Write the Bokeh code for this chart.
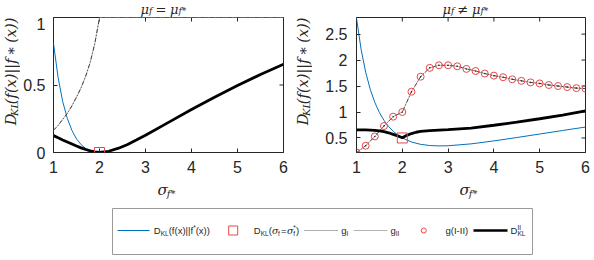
import math
from bokeh.plotting import figure
from bokeh.layouts import column, row
from bokeh.models import Range1d, Label, FixedTicker
from bokeh.embed import file_html
from bokeh.resources import INLINE

# ---- data -------------------------------------------------------------
# sigma_{f*} sample points for the smooth curves
sig_a = [1.0, 1.1, 1.2, 1.3, 1.4, 1.5, 1.6, 1.7, 1.8, 1.9, 2.0,
         2.2, 2.4, 2.6, 2.8, 3.0, 3.5, 4.0, 4.5, 5.0, 5.5, 6.0]

# equal means: D_KL(f(x)||f*(x)) and D_KL^II
kl_equal = [0.807, 0.555, 0.378, 0.253, 0.164, 0.101, 0.058, 0.030, 0.012, 0.003, 0.0,
            0.009, 0.030, 0.058, 0.092, 0.128, 0.223, 0.318, 0.410, 0.496, 0.578, 0.654]
dkl2_equal = [0.125, 0.109, 0.093, 0.078, 0.063, 0.048, 0.034, 0.022, 0.012, 0.005, 0.0,
              0.009, 0.030, 0.058, 0.092, 0.128, 0.223, 0.318, 0.410, 0.496, 0.578, 0.654]

# equal means: g_I / g_II
sig_g = [1.0, 1.1, 1.2, 1.3, 1.4, 1.5, 1.6, 1.7, 1.8, 1.9, 2.0, 3.0, 4.0, 5.0, 6.0]
g_equal = [0.165, 0.20, 0.245, 0.29, 0.345, 0.41, 0.48, 0.565, 0.67, 0.81, 1.0, 1.0, 1.0, 1.0, 1.0]

# shifted means: D_KL(f(x)||f*(x))
kl_shift = [2.807, 2.208, 1.767, 1.436, 1.184, 0.990, 0.839, 0.722, 0.629, 0.557, 0.500,
            0.422, 0.377, 0.354, 0.347, 0.350, 0.386, 0.443, 0.508, 0.576, 0.644, 0.710]

# shifted means: D_KL^II
sig_b = [1.0, 1.2, 1.4, 1.5, 1.6, 1.7, 1.8, 1.9, 2.0, 2.1, 2.2,
         2.3, 2.4, 2.6, 2.8, 3.0, 3.5, 4.0, 4.5, 5.0, 5.5, 6.0]
dkl2_shift = [0.655, 0.655, 0.645, 0.635, 0.62, 0.60, 0.57, 0.54, 0.505, 0.55, 0.585,
              0.61, 0.625, 0.64, 0.65, 0.66, 0.69, 0.745, 0.805, 0.87, 0.94, 1.02]

# shifted means: g(I-II) sampled every 0.2
sig_c = [1.0, 1.2, 1.4, 1.6, 1.8, 2.0, 2.2, 2.4, 2.6, 2.8, 3.0, 3.2, 3.4,
         3.6, 3.8, 4.0, 4.2, 4.4, 4.6, 4.8, 5.0, 5.2, 5.4, 5.6, 5.8, 6.0]
g_shift = [0.22, 0.35, 0.53, 0.73, 0.91, 1.00, 1.39, 1.68, 1.85, 1.90, 1.90, 1.88, 1.83,
           1.79, 1.74, 1.70, 1.67, 1.63, 1.60, 1.57, 1.55, 1.52, 1.50, 1.48, 1.46, 1.45]

# D_KL at sigma_f = sigma_f*
opt_sigma = [2.0]
opt_kl_equal = [0.0]
opt_kl_shift = [0.5]

x_ticks = [1, 2, 3, 4, 5, 6]
y_ticks_left = [0, 0.5, 1]
y_labels_left = ["0", "0.5", "1"]
y_ticks_right = [0.5, 1, 1.5, 2, 2.5]
y_labels_right = ["0.5", "1", "1.5", "2", "2.5"]

# ---- styling ----------------------------------------------------------
INK = "#262626"
BLUE = "#0072BD"
RED = "#e8474b"
MATH = "DejaVu Serif"
SANS = "Liberation Sans"
CORE_H = 163   # frame (135) + room for the tick labels


def blank(width, height):
    """A plain pixel-space strip used to hold math-style text."""
    s = figure(width=width, height=height, x_range=Range1d(0, width),
               y_range=Range1d(height, 0), output_backend="svg",
               toolbar_location=None, min_border=0, title=None,
               x_axis_location=None, y_axis_location=None)
    s.xgrid.visible = False
    s.ygrid.visible = False
    s.outline_line_color = None
    return s


def label(fig, x, y, text, size, style="italic", font=MATH, align="left",
          baseline="middle", angle=0.0):
    fig.add_layout(Label(x=x, y=y, text=text, text_font=font,
                         text_font_size=f"{size}px", text_font_style=style,
                         text_color=INK, text_align=align,
                         text_baseline=baseline, angle=angle))


def make_axes(width, left, right, y0, y1, yticks, ylabels, ystandoff):
    p = figure(width=width, height=CORE_H, x_range=Range1d(1, 6), y_range=Range1d(y0, y1),
               output_backend="svg", toolbar_location=None,
               min_border_left=left, min_border_right=right,
               min_border_top=0, min_border_bottom=CORE_H - 135)
    p.xgrid.visible = False
    p.ygrid.visible = False
    p.outline_line_color = INK
    p.outline_line_width = 1
    p.xaxis.ticker = FixedTicker(ticks=x_ticks)
    p.yaxis.ticker = FixedTicker(ticks=yticks)
    p.yaxis.major_label_overrides = {t: s for t, s in zip(yticks, ylabels)}
    for ax in p.axis:
        ax.axis_line_color = None
        ax.major_tick_in = 4
        ax.major_tick_out = 0
        ax.minor_tick_in = 0
        ax.minor_tick_out = 0
        ax.major_tick_line_color = INK
        ax.major_label_text_font = SANS
        ax.major_label_text_font_size = "16px"
        ax.major_label_text_color = INK
    p.xaxis.major_label_standoff = 8
    p.yaxis.major_label_standoff = ystandoff
    # mirrored tick marks along the top and right edges of the box
    # (centred on the edge, so only the inner half shows)
    p.scatter(x_ticks, [y1] * len(x_ticks), marker="dash", angle=math.pi / 2,
              size=8, line_color=INK, line_width=1)
    p.scatter([6] * len(yticks), yticks, marker="dash", size=8,
              line_color=INK, line_width=1)
    return p


def panel(core, width, relation, tx, sx):
    """Wrap an axes figure with its title, y label and x label strips."""
    # title: mu_f = mu_f*  (or the not-equal form)
    title = blank(width, 17)
    label(title, tx, 8.5, "μ", 13)
    label(title, tx + 8.5, 10.3, "f", 9)
    label(title, tx + 15, 8.5, relation, 13, style="normal")
    label(title, tx + 29.5, 8.5, "μ", 13)
    label(title, tx + 38, 10.3, "f*", 9)

    # y label: D_KL(f(x)||f*(x)), reading bottom to top
    ylab = blank(20, CORE_H)
    rot = math.pi / 2
    label(ylab, 10, 130, "D", 14.5, angle=rot)
    label(ylab, 13.5, 118.8, "KL", 10, angle=rot)
    label(ylab, 10, 104.6, "(f(x)||f\u2009∗\u2009(x))", 14.5, angle=rot)

    # x label: sigma_f*
    xlab = blank(width, 200 - 17 - CORE_H)
    label(xlab, sx, 9.2, "σ", 15)
    label(xlab, sx + 9.3, 13.3, "f*", 10)
    return column(title, row(ylab, core), xlab)


# ---- equal means ------------------------------------------------------
p1 = make_axes(272, 33, 9, 0, 1, y_ticks_left, y_labels_left, 8)
p1.line(sig_a, kl_equal, color=BLUE, line_width=1)
p1.line(sig_g, g_equal, color="#b5b5b5", line_width=1)
p1.line(sig_g, g_equal, color="#333333", line_width=0.9, line_dash="4 2 1 2")
p1.line(sig_a, dkl2_equal, color="black", line_width=2.8)
p1.scatter(opt_sigma, opt_kl_equal, marker="square", size=10, fill_color=None,
           line_color=RED, line_width=1)

# ---- shifted means ----------------------------------------------------
p2 = make_axes(282, 44, 9, 0.22, 2.82, y_ticks_right, y_labels_right, 9)
p2.line(sig_a, kl_shift, color=BLUE, line_width=1)
p2.line(sig_c, g_shift, color="#b5b5b5", line_width=1)
p2.line(sig_c, g_shift, color="#333333", line_width=0.8, line_dash="4 2 1 2")
p2.scatter(sig_c, g_shift, marker="circle", size=7, fill_color=None,
           line_color=RED, line_width=1)
p2.scatter(sig_c, g_shift, marker="circle", size=1.5, fill_color="#222222",
           line_color=None)
p2.line(sig_b, dkl2_shift, color="black", line_width=2.8)
p2.scatter(opt_sigma, opt_kl_shift, marker="square", size=10, fill_color=None,
           line_color=RED, line_width=1)

left = panel(p1, 292, "=", 140, 157)
right = panel(p2, 302, "≠", 150, 167)

# ---- legend strip -----------------------------------------------------
pl = figure(width=594, height=60, x_range=Range1d(0, 594), y_range=Range1d(260, 200),
            output_backend="svg", toolbar_location=None, min_border=0, title=None,
            x_axis_location=None, y_axis_location=None)
pl.xgrid.visible = False
pl.ygrid.visible = False
pl.outline_line_color = None
pl.quad(left=112, right=532, top=208, bottom=254, fill_color="white",
        line_color="#9a9a9a", line_width=1)
ym = 230
pl.line([117, 149], [ym, ym], color=BLUE, line_width=1)
pl.scatter([232.7], [ym], marker="square", size=9, fill_color=None, line_color=RED)
pl.line([304, 337], [ym, ym], color="#333333", line_width=0.8, line_dash="1 1")
pl.line([353, 387], [ym, ym], color="#b5b5b5", line_width=1)
pl.scatter([423.3], [ym], marker="circle", size=5, fill_color=None, line_color=RED)
pl.line([473, 507], [ym, ym], color="black", line_width=2.5)


def leg(x, y, text, size=9.5, style="normal", font=SANS):
    label(pl, x, y, text, size, style=style, font=font)


leg(153.3, ym, "D")
leg(160.2, ym + 2.5, "KL", 6.5)
leg(168.2, ym, "(f(x)||f")
leg(192.7, ym - 3, "*", 6.5)
leg(195.2, ym, "(x))")

leg(253.3, ym, "D")
leg(260.2, ym + 2.5, "KL", 6.5)
leg(268.2, ym, "(")
leg(271.4, ym, "σ", style="italic", font=MATH)
leg(277.6, ym + 2.5, "f", 6.5)
leg(280.6, ym, "=")
leg(286.6, ym, "σ", style="italic", font=MATH)
leg(292.8, ym - 3, "*", 6.5)
leg(292.8, ym + 2.5, "f", 6.5)
leg(295.6, ym, ")")

leg(340.7, ym, "g")
leg(346.0, ym + 2.5, "I", 6.5)
leg(390.0, ym, "g")
leg(395.3, ym + 2.5, "II", 6.5)
leg(445.0, ym, "g(I-II)")
leg(510.0, ym, "D")
leg(517.0, ym - 3.5, "II", 6.5)
leg(517.0, ym + 2.5, "KL", 6.5)

layout = column(row(left, right), pl)
open("out.html", "w").write(file_html(layout, INLINE))
